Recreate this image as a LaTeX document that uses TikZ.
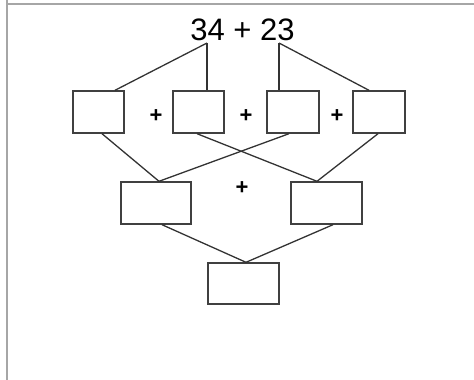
\documentclass[tikz,border=0pt]{standalone}
\usepackage{fontspec}
\setmainfont{Liberation Sans}
\usetikzlibrary{positioning}

\begin{document}
\begin{tikzpicture}[
    x=1pt,y=-1pt,
    frame/.style={line width=1.6pt,gray!70},
    ansbox/.style={draw=black!75,line width=1.4pt,minimum height=42pt,inner sep=0pt},
    link/.style={draw=black!80,line width=1.3pt},
    plus/.style={font=\fontsize{22}{22}\selectfont\bfseries,inner sep=0pt}
]
\useasboundingbox (0,0) rectangle (474,380);
\draw[frame] (7,4) -- (474,4);
\draw[frame] (7,0) -- (7,380);

\node[anchor=base,font=\fontsize{31}{31}\selectfont] (sum) at (242.5,40) {34 + 23};
\coordinate (t1) at (207,43);
\coordinate (t2) at (279,43);

\node[ansbox,minimum width=51pt] (b1) at (98.5,112) {};
\node[ansbox,minimum width=51pt] (b2) at (198.5,112) {};
\node[ansbox,minimum width=52pt] (b3) at (293,112) {};
\node[ansbox,minimum width=52pt] (b4) at (379,112) {};
\node[plus] (p1) at (156,116.5) {+};
\node[plus] (p2) at (246,116.5) {+};
\node[plus] (p3) at (337,116.5) {+};

\node[ansbox,minimum width=70pt] (m1) at (156,203) {};
\node[ansbox,minimum width=71pt] (m2) at (326.5,203) {};
\node[plus] (p4) at (242,188.5) {+};

\node[ansbox,minimum width=71pt,minimum height=41pt] (res) at (243.5,283.5) {};

\draw[link] (t1) -- ([xshift=16.5]b1.north);
\draw[link] (t1) -- ([xshift=8.5]b2.north);
\draw[link] (t2) -- ([xshift=-14]b3.north);
\draw[link] (t2) -- ([xshift=-10]b4.north);

\draw[link] ([xshift=3.5]b1.south) -- ([xshift=3]m1.north);
\draw[link] ([xshift=-4]b3.south) -- ([xshift=3]m1.north);
\draw[link] ([xshift=-1.5]b2.south) -- ([xshift=-9.5]m2.north);
\draw[link] ([xshift=-1]b4.south) -- ([xshift=-9.5]m2.north);

\draw[link] ([xshift=6]m1.south) -- ([xshift=2.5]res.north);
\draw[link] ([xshift=6.5]m2.south) -- ([xshift=2.5]res.north);
\end{tikzpicture}
\end{document}
